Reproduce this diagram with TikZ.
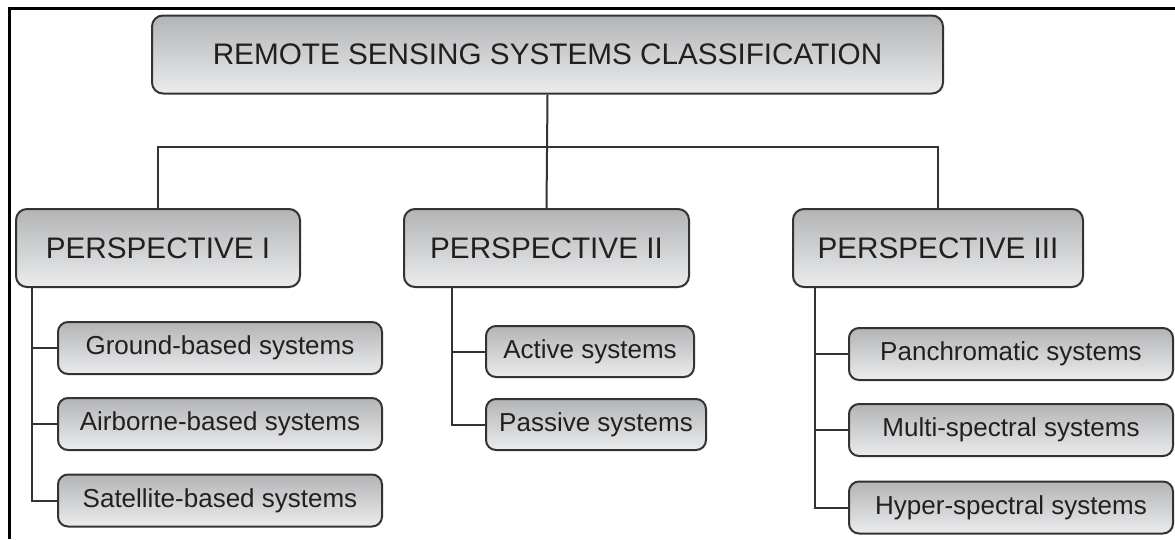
\documentclass[tikz,border=0pt]{standalone}
\usepackage{fontspec}
\setmainfont{Liberation Sans}
\definecolor{boxtop}{HTML}{B3B4B6}
\definecolor{boxbot}{HTML}{EBECED}
\definecolor{boxline}{HTML}{333333}
\definecolor{ink}{HTML}{231F20}
\begin{document}
\begin{tikzpicture}[x=1pt, y=-1pt,
    box/.style={draw=boxline, line width=2pt, rounded corners=11pt,
      top color=boxtop, bottom color=boxbot, text=ink, inner sep=0pt},
    headbox/.style={box, minimum height=78pt, font=\fontsize{29.7}{33}\selectfont},
    itembox/.style={box, minimum height=52pt, rounded corners=10pt,
      font=\fontsize{26}{29}\selectfont},
    link/.style={draw=boxline, line width=2pt}]
    \useasboundingbox (0, 0) rectangle (1175, 539);
    \draw [line width=3pt] (9.5, 539) -- (9.5, 8) -- (1175, 8);

    \node [headbox, minimum width=791pt] (root) at (547.5, 54.5) {REMOTE SENSING SYSTEMS CLASSIFICATION};

    \node [headbox, minimum width=284pt] (p1) at (158, 248) {PERSPECTIVE I};
    \node [headbox, minimum width=285pt] (p2) at (546.5, 248) {PERSPECTIVE II};
    \node [headbox, minimum width=290pt] (p3) at (938, 248) {PERSPECTIVE III};

    \node [itembox, minimum width=324pt] (g1) at (220, 348) {Ground-based systems};
    \node [itembox, minimum width=324pt] (g2) at (220, 424) {Airborne-based systems};
    \node [itembox, minimum width=324pt] (g3) at (220, 500.5) {Satellite-based systems};

    \node [itembox, minimum width=208pt, minimum height=51pt] (a1) at (590, 351.5) {Active systems};
    \node [itembox, minimum width=220pt, minimum height=51pt] (a2) at (596, 424.5) {Passive systems};

    \node [itembox, minimum width=324pt] (s1) at (1011, 354) {Panchromatic systems};
    \node [itembox, minimum width=324pt] (s2) at (1011, 430) {Multi-spectral systems};
    \node [itembox, minimum width=324pt] (s3) at (1011, 507.5) {Hyper-spectral systems};

    \draw [link] (root.south) -- (p2.north);
    \draw [link] (p1.north) -- ++(0, -61) -| (p3.north);

    \draw [link] ([xshift=17pt]p1.south west) |- (g3.west);
    \draw [link] ([xshift=17pt]p1.south west) |- (g1.west);
    \draw [link] ([xshift=17pt]p1.south west) |- (g2.west);

    \draw [link] ([xshift=49pt]p2.south west) |- (a2.west);
    \draw [link] ([xshift=49pt]p2.south west) |- (a1.west);

    \draw [link] ([xshift=23pt]p3.south west) |- (s3.west);
    \draw [link] ([xshift=23pt]p3.south west) |- (s1.west);
    \draw [link] ([xshift=23pt]p3.south west) |- (s2.west);
  \end{tikzpicture}
\end{document}
